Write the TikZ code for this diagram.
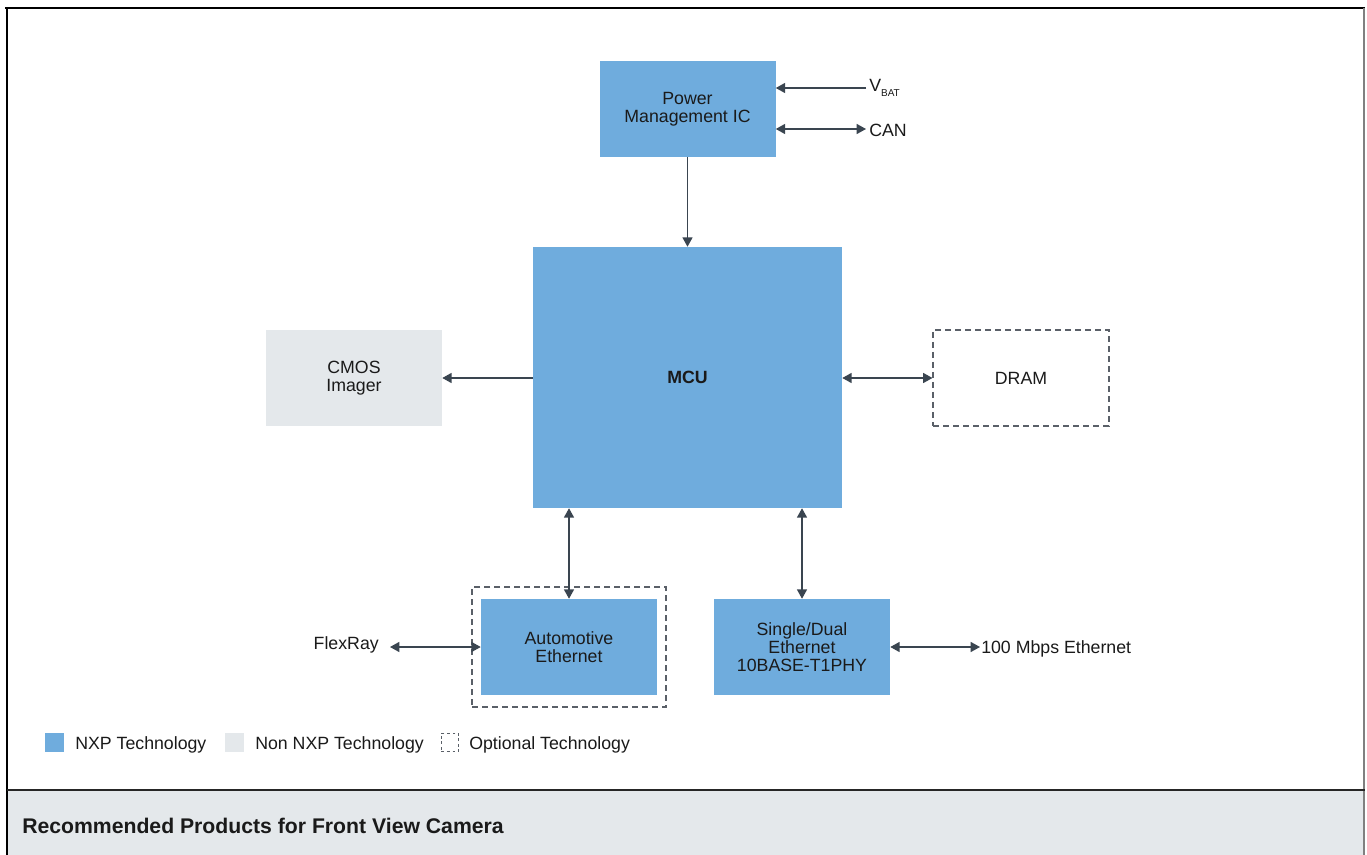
\documentclass[tikz,border=0pt]{standalone}
\usepackage{fontspec}
\setmainfont{Liberation Sans}
\usetikzlibrary{arrows.meta}
\definecolor{nxpblue}{HTML}{6FACDD}
\definecolor{nongray}{HTML}{E4E8EB}
\definecolor{arrowc}{HTML}{3A4550}
\definecolor{dashc}{HTML}{5A6068}
\definecolor{txt}{HTML}{1A1A1A}
\tikzset{
  blk/.style={inner sep=0pt, align=center, text=txt, font=\fontsize{13.3}{13.6}\selectfont},
  nxp/.style={blk, fill=nxpblue, minimum width=132pt, minimum height=72pt},
  nonnxp/.style={blk, fill=nongray, minimum width=132pt, minimum height=72pt},
  optbox/.style={blk, draw=dashc, line width=0.8pt, dash pattern=on 4.5pt off 3pt},
  conn/.style={draw=arrowc, line width=1pt},
  uni/.style={conn, -{Triangle[length=7pt,width=7.5pt]}},
  bi/.style={conn, {Triangle[length=7pt,width=7.5pt]}-{Triangle[length=7pt,width=7.5pt]}},
  lbl/.style={inner sep=0pt, text=txt, font=\fontsize{13.3}{15}\selectfont},
}
\begin{document}
\begin{tikzpicture}[x=0.75pt,y=-0.75pt]
\useasboundingbox (0,0) rectangle (1367,855);
% frame and bottom band
\fill[white] (0,0) rectangle (1367,855);
\fill[nongray] (7,790) rectangle (1365,855);
\draw[black, line width=1.3pt] (5,8) -- (1365,8);
\draw[black, line width=1.3pt] (7,8) -- (7,855);
\draw[gray, line width=0.9pt] (1364,8) -- (1364,855);
\draw[black!85, line width=1.3pt] (7,790) -- (1365,790);
\node[lbl, anchor=west, font=\fontsize{15.9}{18}\selectfont\bfseries] (title) at (22,826) {Recommended Products for Front View Camera};

% blocks
\node[nxp] (pmic) at (687.5,109) {Power\\Management IC};
\node[nxp, minimum width=231.75pt, minimum height=195.75pt, font=\fontsize{13.3}{15}\selectfont\bfseries] (mcu) at (687.5,377.5) {MCU};
\node[nonnxp] (cmos) at (354,378) {CMOS\\Imager};
\node[optbox, minimum width=132pt, minimum height=72pt] (dram) at (1021,378) {DRAM};
\node[optbox, minimum width=145.5pt, minimum height=90pt] (autoopt) at (569,647) {};
\node[nxp] (auto) at (569,647) {Automotive\\Ethernet};
\node[nxp] (sd) at (802,647) {Single/Dual\\Ethernet\\10BASE-T1PHY};

% external labels
\coordinate (vbat) at (866,88);
\coordinate (can) at (866,129);
\coordinate (flex) at (390,647);
\coordinate (eth) at (980,647);
\node[lbl, anchor=west] (vbatl) at (869,88) {V\raisebox{-0.6ex}{\fontsize{7.5}{8}\selectfont BAT}};
\node[lbl, anchor=west] (canl) at (869,130) {CAN};
\node[lbl, anchor=east] (flexl) at (379,645) {FlexRay};
\node[lbl, anchor=west] (ethl) at (981,649) {100 Mbps Ethernet};

% connectors
\draw[uni] (vbat) -- (vbat -| pmic.east);
\draw[bi] (can -| pmic.east) -- (can);
\draw[uni] (pmic.south) -- (mcu.north);
\draw[uni] (mcu.west |- cmos.east) -- (cmos.east);
\draw[bi] (mcu.east |- dram.west) -- (dram.west);
\draw[bi] (mcu.south -| auto.north) -- (auto.north);
\draw[bi] (mcu.south -| sd.north) -- (sd.north);
\draw[bi] (flex) -- (auto.west);
\draw[bi] (sd.east) -- (eth);

% legend
\node[fill=nxpblue, minimum size=14.25pt, inner sep=0pt] (lg1) at (54.5,742.5) {};
\node[lbl, anchor=west] (lg1t) at (75,745) {NXP Technology};
\node[fill=nongray, minimum size=14.25pt, inner sep=0pt] (lg2) at (234.5,742.5) {};
\node[lbl, anchor=west] (lg2t) at (255,745) {Non NXP Technology};
\node[draw=dashc, line width=0.6pt, dash pattern=on 2.2pt off 2pt, minimum width=13pt, minimum height=14pt, inner sep=0pt] (lg3) at (450,742.5) {};
\node[lbl, anchor=west] (lg3t) at (469,745) {Optional Technology};
\end{tikzpicture}
\end{document}
